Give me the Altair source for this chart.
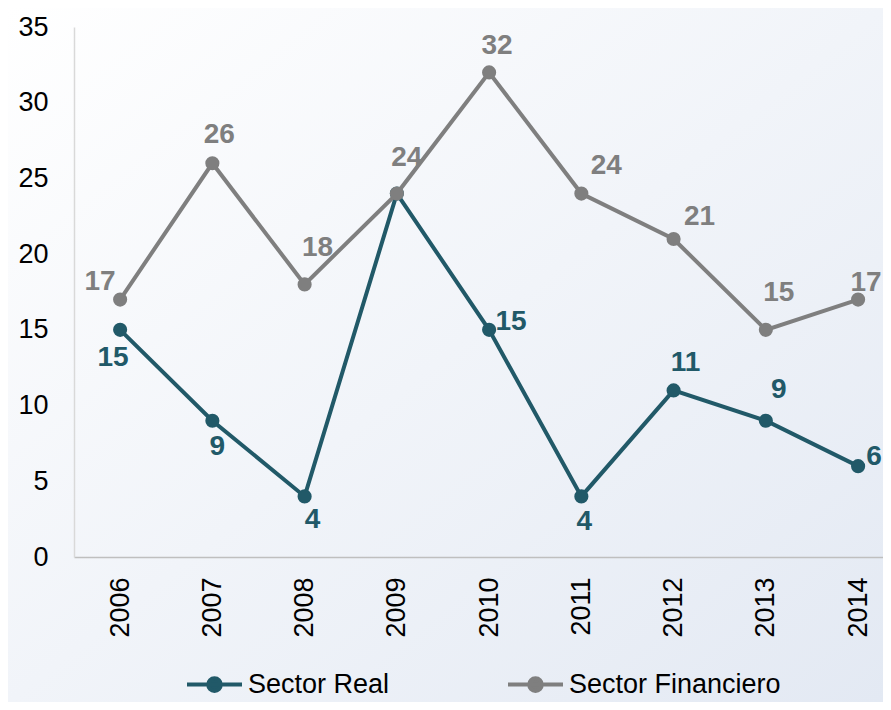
import altair as alt
import pandas as pd

# ---- data ----
years = [2006, 2007, 2008, 2009, 2010, 2011, 2012, 2013, 2014]
sector_real = [15, 9, 4, 24, 15, 4, 11, 9, 6]
sector_financiero = [17, 26, 18, 24, 32, 24, 21, 15, 17]
series_names = ["Sector Real", "Sector Financiero"]
series_colors = ["#215968", "#7f7f7f"]
y_ticks = [0, 5, 10, 15, 20, 25, 30, 35]

# label placement (pixel offsets from the point), kept apart from the values
real_label_dx = [-7, 5, 8, 0, 22, 3, 12, 13, 16]
real_label_dy = [28, 26, 24, 0, -8, 26, -27, -31, -9]
real_label_show = [True, True, True, False, True, True, True, True, True]
fin_label_dx = [-20, 7, 13, 10, 8, 25, 26, 13, 8]
fin_label_dy = [-18, -28, -36, -36, -26, -28, -22, -37, -17]
fin_label_show = [True] * 9

W, H = 809, 530
FONT = "Liberation Sans"

rows = []
for name, vals, dxs, dys, shows, col in [
    (series_names[0], sector_real, real_label_dx, real_label_dy, real_label_show, series_colors[0]),
    (series_names[1], sector_financiero, fin_label_dx, fin_label_dy, fin_label_show, series_colors[1]),
]:
    for yr, v, dx, dy, s in zip(years, vals, dxs, dys, shows):
        rows.append({"year": yr, "value": v, "series": name, "dx": dx, "dy": dy,
                     "show": s, "tcolor": col})
df = pd.DataFrame(rows)

x_enc = alt.X("year:Q",
              scale=alt.Scale(domain=[2005.5, 2014.27], nice=False, zero=False),
              axis=alt.Axis(values=years, format="d", labelAngle=270, labelFontSize=27,
                            labelFont=FONT, labelColor="black", ticks=False, grid=False,
                            domainColor="#bfbfbf", domainWidth=1.5, labelPadding=20,
                            title=None, labelFlush=False, labelOverlap=False, zindex=1))
y_enc = alt.Y("value:Q",
              scale=alt.Scale(domain=[0, 35], nice=False),
              axis=alt.Axis(values=y_ticks, labelFontSize=27, labelFont=FONT,
                            labelColor="black", ticks=False, grid=False,
                            domainColor="#d9d9d9", domainWidth=1.5, labelPadding=26,
                            title=None, zindex=1))

legend_symbol = ("M-1,0L1,0M0.23,0A0.23,0.23,0,1,1,-0.23,0"
                 "A0.23,0.23,0,1,1,0.23,0Z")
color_enc = alt.Color("series:N",
                      scale=alt.Scale(domain=series_names, range=series_colors),
                      sort=series_names,
                      legend=alt.Legend(title=None, orient="none", legendX=111, legendY=628,
                                        direction="horizontal", symbolType=legend_symbol,
                                        symbolSize=3025, symbolStrokeWidth=4,
                                        symbolFillColor=alt.ExprRef("scale('color', datum.value)"),
                                        symbolOpacity=1,
                                        labelFontSize=27, labelFont=FONT, labelColor="black",
                                        labelOffset=4, columnPadding=110, labelLimit=400,
                                        zindex=1))

bg = alt.Chart(alt.Data(values=[{}])).mark_rect(
    fill=alt.LinearGradient(gradient="linear",
                            stops=[alt.GradientStop(color="#ffffff", offset=0),
                                   alt.GradientStop(color="#e3e9f3", offset=1)],
                            x1=0, y1=0, x2=1, y2=1)
).encode(x=alt.value(-66), x2=alt.value(W), y=alt.value(-19), y2=alt.value(H + 145))

base = alt.Chart(df)


def series_layer(name):
    return base.transform_filter(alt.datum.series == name).mark_line(
        strokeWidth=4,
        point=alt.OverlayMarkDef(filled=True, size=200, opacity=1),
    ).encode(x=x_enc, y=y_enc, color=color_enc)


labels = base.transform_filter(alt.datum.show == True).mark_text(
    font=FONT, fontSize=28, fontWeight="bold", align="center", baseline="middle",
    dx=alt.ExprRef("datum.dx"), dy=alt.ExprRef("datum.dy"),
).encode(x=x_enc, y=y_enc, text=alt.Text("value:Q"),
         color=alt.Color("tcolor:N", scale=None))

chart = alt.layer(bg, series_layer("Sector Real"), series_layer("Sector Financiero"), labels).properties(
    width=W, height=H,
    autosize=alt.AutoSizeParams(type="none"),
    padding={"left": 66, "top": 19, "right": 0, "bottom": 145},
).configure_view(stroke=None).configure(background="white")

chart.save("out.html", embed_options={"renderer": "svg", "actions": False})
